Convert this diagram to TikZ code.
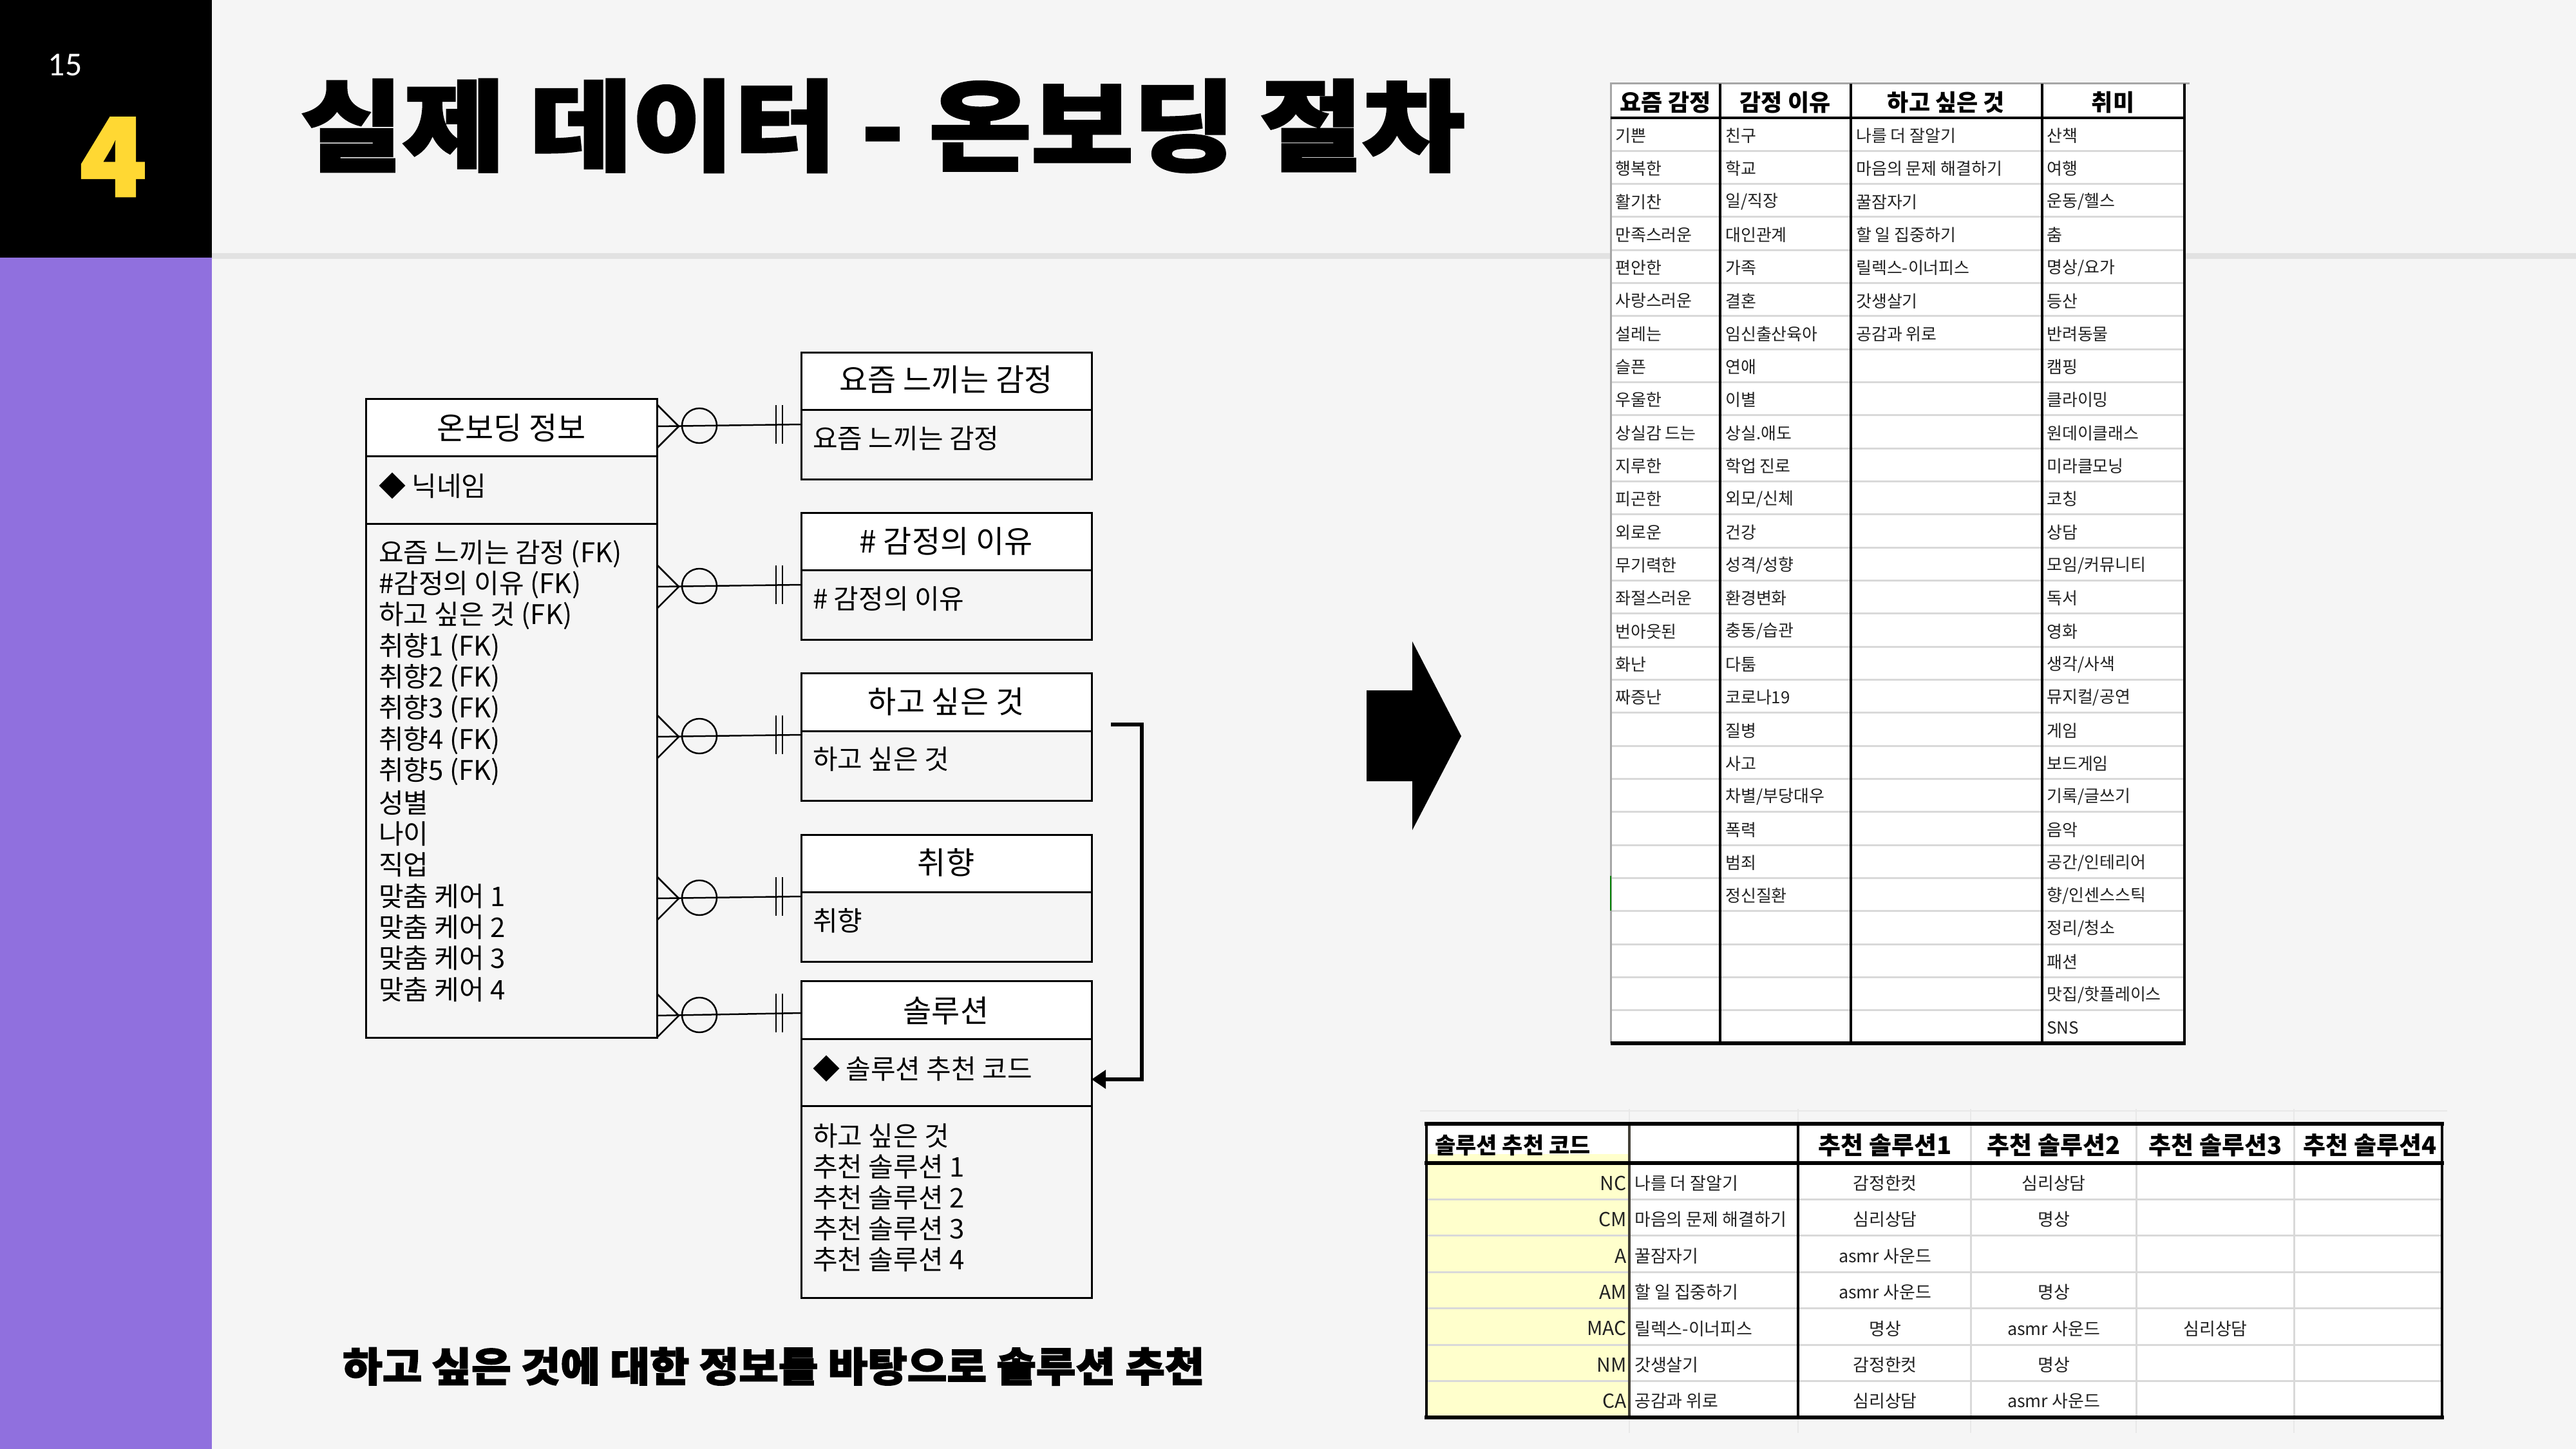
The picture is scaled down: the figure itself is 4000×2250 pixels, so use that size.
\documentclass[tikz,border=0pt]{standalone}
\usepackage{fontspec}
\usepackage{graphicx}
\setmainfont{Noto Sans CJK KR}
\newfontfamily\kr{Noto Sans CJK KR}
\newfontfamily\krheavy[FakeBold=2.5]{Noto Sans CJK KR}
\newfontfamily\numfont{Carlito}
\usetikzlibrary{arrows.meta}
\definecolor{bg}{HTML}{F5F5F5}
\definecolor{sidepurple}{HTML}{9070DE}
\definecolor{numyellow}{HTML}{FFD833}
\definecolor{rule}{HTML}{E2E2E2}
\definecolor{grid}{HTML}{D9D9D9}
\definecolor{faint}{HTML}{E8E8E8}
\definecolor{cellyellow}{HTML}{FFFFCC}
\definecolor{txt}{HTML}{222222}
\tikzset{
  crow/.style={line width=2.5pt, draw=black},
  boxline/.style={line width=3pt, draw=black},
  erhead/.style={font=\fontsize{48}{58}\selectfont, inner sep=0pt},
  ertext/.style={font=\fontsize{42}{50}\selectfont, inner sep=0pt, anchor=west},
  tcell/.style={font=\fontsize{26}{30}\selectfont, inner sep=0pt, anchor=west, text=txt},
  thead/.style={font=\bfseries\fontsize{36}{40}\selectfont, inner sep=0pt},
  bcell/.style={font=\fontsize{27}{30}\selectfont, inner sep=0pt, text=txt},
  bhead/.style={font=\bfseries\fontsize{38}{42}\selectfont, inner sep=0pt},
  gridline/.style={draw=grid, line width=3pt},
  blackline/.style={draw=black, line width=4.5pt},
}
\begin{document}
\begin{tikzpicture}[x=1pt,y=-1pt]
\useasboundingbox (0,0) rectangle (4000,2250);
% background and side bar
\fill[bg] (0,0) rectangle (4000,2250);
\fill[black] (0,0) rectangle (329,400);
\fill[sidepurple] (0,400) rectangle (329,2250);
\fill[rule] (329,393) rectangle (4000,402);
\node[text=white, inner sep=0pt, font=\numfont\fontsize{52}{60}\selectfont] (pagenum) at (101,101) {15};
\node[anchor=north west, inner sep=0pt, text=numyellow] (secnum) at (124,183) {\resizebox*{103pt}{121pt}{\krheavy\bfseries 4}};
% title
\node[anchor=north west, inner sep=0pt] (title) at (467,123) {\resizebox*{1805pt}{144pt}{\krheavy\bfseries 실제 데이터 - 온보딩 절차}};
% caption
\node[anchor=north west, inner sep=0pt] (caption) at (532,2092) {\resizebox*{1338pt}{59pt}{\krheavy\bfseries 하고 싶은 것에 대한 정보를 바탕으로 솔루션 추천}};

% ===== ER diagram =====
% main entity
\fill[white] (568,619) rectangle (1020,708);
\draw[boxline] (568,619) rectangle (1020,1611);
\draw[boxline] (568,708) -- (1020,708) (568,813) -- (1020,813);
\node[erhead] (mainhead) at (794,664) {온보딩 정보};
\node[ertext] (mainkey) at (588,755) {◆ 닉네임};
\foreach \t [count=\i] in {요즘 느끼는 감정 (FK),\#감정의 이유 (FK),하고 싶은 것 (FK),취향1 (FK),취향2 (FK),취향3 (FK),취향4 (FK),취향5 (FK),성별,나이,직업,맞춤 케어 1,맞춤 케어 2,맞춤 케어 3,맞춤 케어 4}
  \node[ertext] (attr\i) at (588,{860+(\i-1)*48.3}) {\t};

% side entities: top / divider / bottom / header y / body y / header / body
\foreach \tp/\dv/\bt/\hy/\by/\hdtext/\bdtext [count=\i] in {547/636/744/590/681/요즘 느끼는 감정/요즘 느끼는 감정, 796/885/993/841/930/\# 감정의 이유/\# 감정의 이유, 1045/1135/1243/1090/1179/하고 싶은 것/하고 싶은 것, 1296/1385/1493/1339/1430/취향/취향}{
  \fill[white] (1244,\tp) rectangle (1695,\dv);
  \draw[boxline] (1244,\tp) rectangle (1695,\bt);
  \draw[boxline] (1244,\dv) -- (1695,\dv);
  \node[erhead] (ent\i head) at (1469,\hy) {\hdtext};
  \node[ertext] (ent\i body) at (1262,\by) {\bdtext};
}
% solution entity
\fill[white] (1244,1523) rectangle (1695,1613);
\draw[boxline] (1244,1523) rectangle (1695,2015);
\draw[boxline] (1244,1613) -- (1695,1613) (1244,1717) -- (1695,1717);
\node[erhead] (ent5head) at (1469,1570) {솔루션};
\node[ertext] (ent5key) at (1262,1660) {◆ 솔루션 추천 코드};
\foreach \t [count=\i] in {하고 싶은 것,추천 솔루션 1,추천 솔루션 2,추천 솔루션 3,추천 솔루션 4}
  \node[ertext] (sol\i) at (1262,{1764+(\i-1)*48}) {\t};

% crow's foot connectors
\foreach \ya/\yb [count=\i] in {662/659,911/908,1144/1141,1395/1392,1577/1573}{
  \coordinate (m\i) at (1020,\ya);
  \coordinate (e\i) at (1244,\yb);
  \draw[crow] (m\i) -- (e\i);
  \draw[crow] (1020,\ya-34) -- (1054,\ya) -- (1020,\ya+34);
  \draw[crow] (1086,\ya-1) circle[radius=27pt];
  \draw[crow] (1205,\yb-30) -- (1205,\yb+30) (1215,\yb-30) -- (1215,\yb+30);
}
% elbow arrow from 하고 싶은 것 to 솔루션 key
\coordinate (elbowstart) at (1725,1125);
\coordinate (elbowend) at (1695,1676);
\draw[line width=6pt, -{Triangle[length=22pt,width=28pt]}] (elbowstart) -- (1773,1125) -- (1773,1676) -- (elbowend);

% big arrow
\fill[black] (2122,1072) -- (2193,1072) -- (2193,996) -- (2269,1143) -- (2193,1289) -- (2193,1213) -- (2122,1213) -- cycle;

% ===== top-right table =====
\fill[white] (2501,130) rectangle (3392,1620);
\foreach \k in {1,...,27}
  \draw[gridline] (2501,{183+\k*51.32}) -- (3392,{183+\k*51.32});
\draw[draw=gray!70, line width=3pt] (2501,1620) -- (2501,130) -- (3400,130);
\draw[draw=green!50!black, line width=2pt] (2501,1360) -- (2501,1414);
\draw[blackline] (2501,183) -- (3394,183);
\draw[draw=black, line width=6pt] (2501,1620) -- (3394,1620);
\foreach \x in {2671,2874,3171,3392}
  \draw[blackline] (\x,130) -- (\x,1620);
\node[thead] (h1) at (2586,159) {요즘 감정};
\node[thead] (h2) at (2772,159) {감정 이유};
\node[thead] (h3) at (3022,159) {하고 싶은 것};
\node[thead] (h4) at (3281,159) {취미};
\foreach \t [count=\i] in {기쁜,행복한,활기찬,만족스러운,편안한,사랑스러운,설레는,슬픈,우울한,상실감 드는,지루한,피곤한,외로운,무기력한,좌절스러운,번아웃된,화난,짜증난}
  \node[tcell] (ca\i) at (2508,{183+(\i-0.5)*51.32+2}) {\t};
\foreach \t [count=\i] in {친구,학교,일/직장,대인관계,가족,결혼,임신출산육아,연애,이별,상실.애도,학업 진로,외모/신체,건강,성격/성향,환경변화,충동/습관,다툼,코로나19,질병,사고,차별/부당대우,폭력,범죄,정신질환}
  \node[tcell] (cb\i) at (2679,{183+(\i-0.5)*51.32+2}) {\t};
\foreach \t [count=\i] in {나를 더 잘알기,마음의 문제 해결하기,꿀잠자기,할 일 집중하기,릴렉스-이너피스,갓생살기,공감과 위로}
  \node[tcell] (cc\i) at (2882,{183+(\i-0.5)*51.32+2}) {\t};
\foreach \t [count=\i] in {산책,여행,운동/헬스,춤,명상/요가,등산,반려동물,캠핑,클라이밍,원데이클래스,미라클모닝,코칭,상담,모임/커뮤니티,독서,영화,생각/사색,뮤지컬/공연,게임,보드게임,기록/글쓰기,음악,공간/인테리어,향/인센스스틱,정리/청소,패션,맛집/핫플레이스,SNS}
  \node[tcell] (cd\i) at (3178,{183+(\i-0.5)*51.32+2}) {\t};

% ===== bottom-right table =====
% faint spreadsheet grid outside
\draw[draw=faint, line width=2pt] (2205,1725) -- (3800,1725);
\foreach \x in {2530,2792,3060,3317,3562}
  \draw[draw=faint, line width=2pt] (\x,1722) -- (\x,1745) (\x,2201) -- (\x,2225);
\fill[white] (2215,1745) rectangle (3792,2201);
\fill[cellyellow] (2217,1792) rectangle (2530,2199);
\foreach \k in {1,...,6}
  \draw[gridline] (2215,{1806+\k*56.43}) -- (3792,{1806+\k*56.43});
\foreach \x in {3060,3317,3562}
  \draw[gridline] (\x,1748) -- (\x,2199);
\draw[blackline] (2215,1745) -- (2215,2201);
\draw[draw=black!85!yellow, line width=4.5pt] (2530,1745) -- (2530,2201);
\draw[blackline] (2792,1745) -- (2792,2201);
\draw[blackline] (3792,1745) -- (3792,2201);
\draw[draw=black, line width=6pt] (2212,1745) -- (3795,1745) (2212,1806) -- (3795,1806) (2212,2201) -- (3795,2201);
\node[font=\bfseries\fontsize{35}{40}\selectfont, inner sep=0pt, anchor=west] (bh0) at (2228,1778) {솔루션 추천 코드};
\begin{scope}
\clip (2215,1748) rectangle (3790,2198);
\node[bhead] (bh1) at (2927,1778) {추천 솔루션1};
\node[bhead] (bh2) at (3189,1778) {추천 솔루션2};
\node[bhead] (bh3) at (3440,1778) {추천 솔루션3};
\node[bhead] (bh4) at (3680,1778) {추천 솔루션4};
\end{scope}
\foreach \t [count=\i] in {NC,CM,A,AM,MAC,NM,CA}
  \node[bcell, anchor=east, font=\fontsize{30}{34}\selectfont] (code\i) at (2526,{1806+(\i-0.5)*56.43+3}) {\t};
\begin{scope}
\clip (2532,1806) rectangle (2790,2201);
\foreach \t [count=\i] in {나를 더 잘알기,마음의 문제 해결하기,꿀잠자기,할 일 집중하기,릴렉스-이너피스,갓생살기,공감과 위로}
  \node[bcell, anchor=west] (want\i) at (2538,{1806+(\i-0.5)*56.43+3}) {\t};
\end{scope}
\foreach \t [count=\i] in {감정한컷,심리상담,asmr 사운드,asmr 사운드,명상,감정한컷,심리상담}
  \node[bcell] (solA\i) at (2927,{1806+(\i-0.5)*56.43+3}) {\t};
\foreach \i/\t in {1/심리상담,2/명상,4/명상,5/asmr 사운드,6/명상,7/asmr 사운드}
  \node[bcell] (solB\i) at (3189,{1806+(\i-0.5)*56.43+3}) {\t};
\node[bcell] (solC5) at (3440,{1806+4.5*56.43+3}) {심리상담};
\end{tikzpicture}
\end{document}
